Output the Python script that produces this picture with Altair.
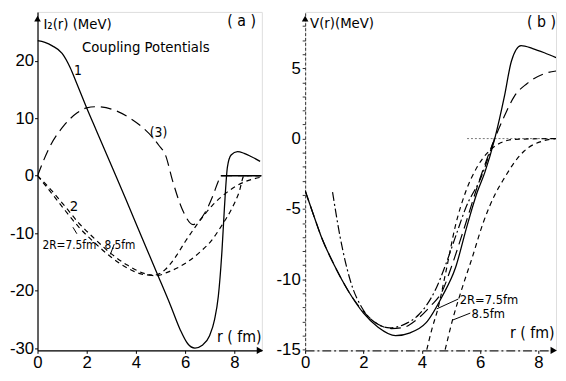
import altair as alt
import pandas as pd

FONT = "Liberation Sans Narrow, DejaVu Sans Condensed, sans-serif"

# ---------------- Panel (a): coupling potentials ----------------
a1_r = [0, 0.3, 0.6, 1.0, 1.33, 1.6, 2.0, 2.4, 3.0, 3.6, 4.2, 4.87, 5.4, 5.8, 6.1, 6.4, 6.7, 7.0, 7.2, 7.35, 7.5, 7.6, 7.72, 7.87, 8.13, 8.4, 8.7, 9.05]
a1_v = [23.5, 23.2, 22.6, 21.3, 18.8, 16.0, 11.8, 7.8, 1.8, -4.2, -10.3, -17.1, -22.5, -26.8, -29.2, -30.0, -29.5, -27.8, -25.0, -21.0, -13.0, -5.5, 1.5, 3.6, 4.2, 3.9, 3.3, 2.5]

a3_r = [0, 0.53, 1.07, 1.6, 2.0, 2.4, 3.07, 3.73, 4.27, 4.67, 4.93, 5.2, 5.5, 5.87, 6.33, 6.8, 7.1, 7.33, 7.45, 8.0, 9.1]
a3_v = [0, 5.3, 8.7, 10.9, 11.8, 12.0, 11.5, 10.1, 8.4, 6.7, 5.3, 3.6, -1.0, -5.7, -8.5, -6.5, -3.8, -1.2, 0, 0, 0]

a2a_r = [0, 0.6, 1.13, 1.67, 2.33, 3.0, 3.67, 4.33, 4.75, 5.2, 5.6, 6.0, 6.5, 7.1, 7.7, 8.4, 9.05]
a2a_v = [0, -3.2, -6.1, -8.9, -11.7, -14.2, -16.1, -17.2, -17.3, -16.3, -14.2, -11.5, -8.4, -5.2, -2.9, -1.1, -0.3]

a2b_r = [0, 0.6, 1.13, 1.67, 2.33, 3.0, 3.67, 4.33, 4.8, 5.4, 6.1, 6.6, 7.07, 7.5, 7.9, 8.2, 8.4, 9.1]
a2b_v = [0, -2.7, -5.4, -8.2, -11.0, -13.6, -15.6, -17.0, -17.4, -16.6, -15.0, -13.3, -11.3, -8.6, -5.7, -2.8, 0, 0]

a_zero_r = [7.45, 9.1]
a_zero_v = [0, 0]

a_text = ["I\u2082(r) (MeV)", "( a )", "Coupling Potentials", "1", "(3)", "2", "2R=7.5fm", "8.5fm", "r ( fm)"]
a_text_r = [0.24, 8.3, 4.4, 1.64, 4.92, 1.48, 0.2, 2.72, 8.2]
a_text_v = [26.4, 26.9, 22.3, 18.2, 7.4, -5.2, -12.0, -12.1, -28.0]
a_text_size = [15, 16, 15, 14, 14, 15, 12, 12, 16]
a_text_align = ["left", "center", "center", "center", "center", "center", "left", "left", "center"]

a_arrow_r = [1.6, 3.12]
a_arrow_v = [-10.1, -11.9]
a_arrow_r2 = [1.44, 2.96]
a_arrow_v2 = [-8.97, -13.7]

# ---------------- Panel (b): potentials ----------------
b_sol_r = [0, 0.3, 0.54, 1.0, 1.5, 2.0, 2.5, 3.1, 3.6, 4.14, 4.7, 5.15, 5.55, 5.9, 6.16, 6.5, 6.83, 7.07, 7.4, 7.8, 8.2, 8.6]
b_sol_v = [-3.7, -5.5, -6.9, -9.0, -10.9, -12.4, -13.4, -14.0, -13.8, -13.1, -11.2, -9.2, -6.2, -3.8, -2.4, 0, 3.0, 5.5, 6.6, 6.4, 6.1, 5.75]

b_dash_r = [0, 0.3, 0.54, 1.0, 1.5, 2.0, 2.3, 2.6, 2.95, 3.4, 3.8, 4.3, 4.71, 5.0, 5.4, 6.0, 6.5, 6.83, 7.17, 7.6, 8.18, 8.6]
b_dash_v = [-3.7, -5.5, -6.9, -9.0, -10.9, -12.3, -12.9, -13.3, -13.5, -13.4, -12.9, -11.9, -10.8, -9.2, -6.7, -2.8, 0, 1.6, 3.0, 3.9, 4.6, 4.8]

b_dd_r = [0.94, 1.2, 1.55, 2.0, 2.5, 2.9, 3.4, 3.9, 4.14, 4.5, 4.81, 5.2, 5.49, 6.06, 6.5]
b_dd_v = [-3.8, -7.0, -10.1, -12.2, -13.2, -13.45, -13.2, -12.5, -11.9, -10.6, -9.0, -6.7, -5.0, -2.6, 0.1]

b75_r = [4.17, 4.35, 4.55, 4.85, 5.15, 5.5, 5.9, 6.3, 6.7, 7.2, 8.6]
b75_v = [-15.0, -13.5, -12.1, -9.2, -6.2, -3.8, -2.0, -0.9, -0.3, -0.05, 0]

b85_r = [4.8, 5.05, 5.4, 5.72, 6.1, 6.5, 6.83, 7.17, 7.5, 8.18, 8.6]
b85_v = [-15.0, -12.9, -10.5, -8.5, -6.0, -4.0, -2.8, -1.7, -0.9, -0.15, 0]

b_zero_r = [5.55, 8.6]
b_zero_v = [0, 0]

b_text = ["V(r)(MeV)", "( b )", "r ( fm)", "2R=7.5fm", "8.5fm"]
b_text_r = [0.17, 8.6, 8.55, 5.3, 5.7]
b_text_v = [8.2, 8.3, -13.8, -11.45, -12.5]
b_text_size = [15, 16, 16, 13, 13]
b_text_align = ["left", "right", "right", "left", "left"]

b_arrow_r = [5.25, 5.66]
b_arrow_v = [-11.4, -12.4]
b_arrow_r2 = [4.51, 5.05]
b_arrow_v2 = [-12.1, -12.9]

# ---------------- scales / axes ----------------
A_X = [0, 9.12]
A_Y = [-30.4, 28.5]
B_X = [0, 8.6]
B_Y = [-15.05, 9.0]

a_xticks = [0, 2, 4, 6, 8]
a_yticks = [-30, -20, -10, 0, 10, 20]
b_xticks = [0, 2, 4, 6, 8]
b_yticks = list(range(-15, 9))


def xa():
    return alt.X("r:Q", scale=alt.Scale(domain=A_X, nice=False, zero=False),
                 axis=alt.Axis(values=a_xticks, title=None, grid=False, tickSize=3,
                               labelPadding=1, labelFontSize=17, labelFlush=False,
                               domainColor="black", tickColor="black", domainWidth=1.2))


def ya():
    return alt.Y("v:Q", scale=alt.Scale(domain=A_Y, nice=False, zero=False),
                 axis=alt.Axis(values=a_yticks, title=None, grid=False, tickSize=3,
                               labelPadding=1, labelFontSize=17, labelFlush=False,
                               labelExpr="toString(datum.value)",
                               domainColor="black", tickColor="black", domainWidth=1.2))


def xb():
    return alt.X("r:Q", scale=alt.Scale(domain=B_X, nice=False, zero=False),
                 axis=alt.Axis(values=b_xticks, title=None, grid=False, tickSize=3,
                               labelPadding=1, labelFontSize=17, labelFlush=False,
                               domainColor="#222", tickColor="black", domainWidth=1.1,
                               domainDash=[9, 3, 2, 3]))


def yb():
    return alt.Y("v:Q", scale=alt.Scale(domain=B_Y, nice=False, zero=False),
                 axis=alt.Axis(values=b_yticks, title=None, grid=False, tickSize=3,
                               labelPadding=2, labelFontSize=17, labelFlush=False,
                               labelExpr="datum.value % 5 == 0 ? toString(datum.value) : ''",
                               domainColor="#333", tickColor="#333", domainWidth=1.0,
                               domainDash=[3, 2]))


def df(r, v):
    return pd.DataFrame({"r": r, "v": v})


def curve(r, v, X, Y, dash=None, width=1.3, color="black"):
    kw = dict(interpolate="monotone", strokeWidth=width, color=color, clip=True)
    if dash:
        kw["strokeDash"] = dash
    return alt.Chart(df(r, v)).mark_line(**kw).encode(x=X(), y=Y())


def arrows(r, v, r2, v2, X, Y):
    d = pd.DataFrame({"r": r, "v": v, "r2": r2, "v2": v2})
    return alt.Chart(d).mark_rule(color="black", strokeWidth=1).encode(
        x=X(), y=Y(), x2="r2:Q", y2="v2:Q")


def axis_arrows(xdom, ydom, X, Y):
    up = alt.Chart(df([0], [ydom[1] - 1.2 * (ydom[1] - ydom[0]) / 60])).mark_point(
        shape="triangle-up", filled=True, size=45, color="black", opacity=1).encode(x=X(), y=Y())
    right = alt.Chart(df([xdom[1] - 0.08], [ydom[0]])).mark_point(
        shape="triangle-right", filled=True, size=55, color="black", opacity=1).encode(x=X(), y=Y())
    return up + right


def texts(t, r, v, s, al, X, Y):
    d = pd.DataFrame({"r": r, "v": v, "t": t, "s": s, "al": al})
    layers = []
    for a in ["left", "center", "right"]:
        sub = d[d["al"] == a]
        if len(sub):
            layers.append(alt.Chart(sub).mark_text(font=FONT, color="black", align=a, baseline="middle").encode(
                x=X(), y=Y(), text="t:N", size=alt.Size("s:Q", scale=None, legend=None)))
    return alt.layer(*layers)


panel_a = alt.layer(
    curve(a3_r, a3_v, xa, ya, dash=[11, 6], width=1.2),
    curve(a2a_r, a2a_v, xa, ya, dash=[5, 4], width=1.2),
    curve(a2b_r, a2b_v, xa, ya, dash=[5, 4], width=1.2),
    curve(a_zero_r, a_zero_v, xa, ya, width=1.6),
    curve(a1_r, a1_v, xa, ya, width=1.3),
    arrows(a_arrow_r, a_arrow_v, a_arrow_r2, a_arrow_v2, xa, ya),
    axis_arrows(A_X, A_Y, xa, ya),
    texts(a_text, a_text_r, a_text_v, a_text_size, a_text_align, xa, ya),
).properties(width=228, height=344)

panel_b = alt.layer(
    curve(b_zero_r, b_zero_v, xb, yb, dash=[2, 2], width=1.0, color="#777"),
    curve(b85_r, b85_v, xb, yb, dash=[5, 4], width=1.2),
    curve(b75_r, b75_v, xb, yb, dash=[5, 4], width=1.2),
    curve(b_dd_r, b_dd_v, xb, yb, dash=[9, 3, 2, 3], width=1.2),
    curve(b_dash_r, b_dash_v, xb, yb, dash=[11, 6], width=1.2),
    curve(b_sol_r, b_sol_v, xb, yb, width=1.3),
    arrows(b_arrow_r, b_arrow_v, b_arrow_r2, b_arrow_v2, xb, yb),
    axis_arrows(B_X, B_Y, xb, yb),
    texts(b_text, b_text_r, b_text_v, b_text_size, b_text_align, xb, yb),
).properties(width=255, height=344)

chart = alt.hconcat(panel_a, panel_b, spacing=11).properties(padding=0).configure_view(
    stroke=None).configure_axis(labelFont=FONT, labelColor="black").configure(background="white")

chart.save("out.html", embed_options={"renderer": "svg", "actions": False})
